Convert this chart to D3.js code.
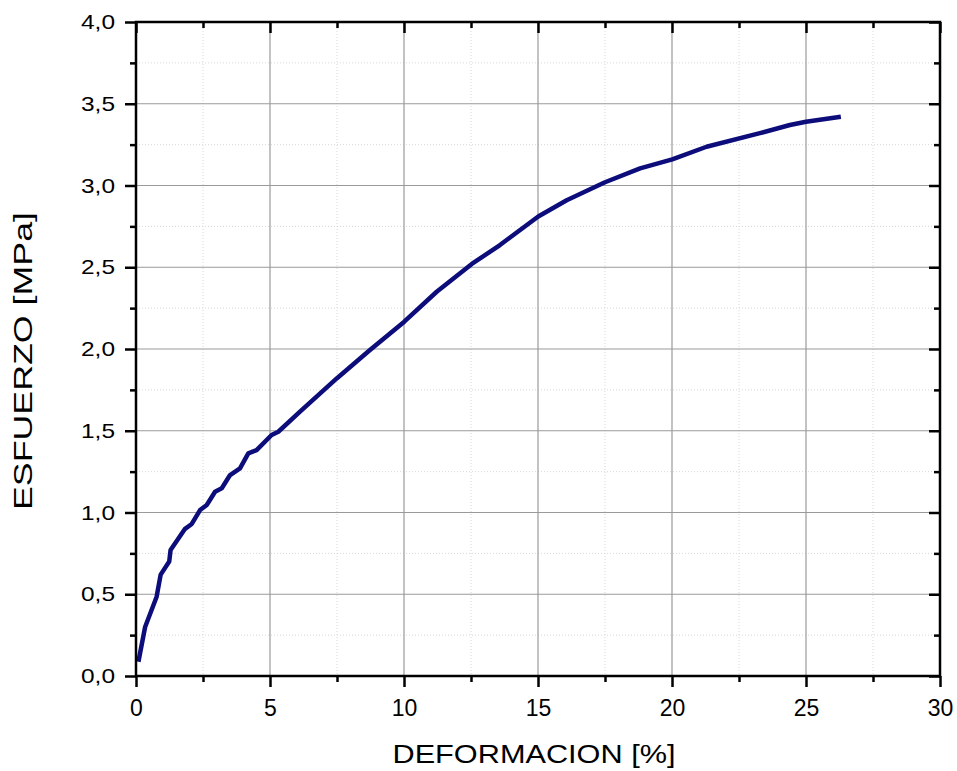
<!DOCTYPE html>
<html>
<head>
<meta charset="utf-8">
<script src="https://cdn.jsdelivr.net/npm/d3@7"></script>
<style>
  body { margin: 0; background: #fff; }
  svg text { font-family: "Liberation Sans", Arial, sans-serif; fill: #000; }
</style>
</head>
<body>
<div id="chart"></div>
<script>
// deformacion [%] and esfuerzo [MPa]
var strain = [0.09, 0.34, 0.77, 0.92, 1.24, 1.29, 1.83, 2.08, 2.39, 2.64, 2.95, 3.20, 3.51, 3.88, 4.19, 4.50,
    5.06, 5.31, 6.12, 7.49, 8.73, 10.01, 11.22, 12.53, 13.58, 15.01, 16.07, 17.5, 18.81, 20.01,
    21.29, 23.28, 24.4, 25.0, 26.3];
var stress = [0.087, 0.30, 0.485, 0.62, 0.70, 0.77, 0.90, 0.93, 1.015, 1.046, 1.127, 1.148, 1.229, 1.27, 1.362, 1.382,
    1.474, 1.494, 1.617, 1.82, 1.994, 2.167, 2.35, 2.52, 2.636, 2.81, 2.91, 3.02, 3.105, 3.16,
    3.237, 3.32, 3.37, 3.39, 3.42];
var xMajor = [0, 5, 10, 15, 20, 25, 30];
var xMinor = [2.5, 7.5, 12.5, 17.5, 22.5, 27.5];
var yMajor = [0, 0.5, 1.0, 1.5, 2.0, 2.5, 3.0, 3.5, 4.0];
var yMinor = [0.25, 0.75, 1.25, 1.75, 2.25, 2.75, 3.25, 3.75];

function draw_chart() {
    "use strict";
    var width = 957, height = 771;
    var margin = {top: 22, right: 17, bottom: 95, left: 136};
    var w = width - margin.left - margin.right;
    var h = height - margin.top - margin.bottom;

    var svg = d3.select("#chart")
        .append("svg")
        .attr("width", width)
        .attr("height", height);

    var g = svg.append("g")
        .attr("transform", "translate(" + margin.left + "," + margin.top + ")");

    var x = d3.scaleLinear().domain([0, 30]).range([0, w]);
    var y = d3.scaleLinear().domain([0, 4]).range([h, 0]);
    var fmt = function (d) { return d3.format(".1f")(d).replace(".", ","); };

    // minor grid, dotted
    g.selectAll(".minorx").data(xMinor).enter().append("line")
        .attr("x1", x).attr("x2", x).attr("y1", 0).attr("y2", h)
        .style("stroke", "#d8d8d8").style("stroke-dasharray", "1,2");
    g.selectAll(".minory").data(yMinor).enter().append("line")
        .attr("y1", y).attr("y2", y).attr("x1", 0).attr("x2", w)
        .style("stroke", "#d8d8d8").style("stroke-dasharray", "1,2");

    // major grid
    g.selectAll(".majorx").data(xMajor.slice(1, -1)).enter().append("line")
        .attr("x1", x).attr("x2", x).attr("y1", 0).attr("y2", h)
        .style("stroke", "#9a9a9a").style("stroke-width", 1.2);
    g.selectAll(".majory").data(yMajor.slice(1, -1)).enter().append("line")
        .attr("y1", y).attr("y2", y).attr("x1", 0).attr("x2", w)
        .style("stroke", "#9a9a9a").style("stroke-width", 1.2);

    // curve
    var line = d3.line()
        .x(function (d, i) { return x(strain[i]); })
        .y(function (d, i) { return y(stress[i]); });
    g.append("path")
        .datum(strain)
        .attr("d", line)
        .style("fill", "none")
        .style("stroke", "#0c0c7a")
        .style("stroke-width", 4.5)
        .style("stroke-linejoin", "round");

    // axes: bottom/left outward, top/right inward
    var bottom = g.append("g").attr("transform", "translate(0," + h + ")")
        .call(d3.axisBottom(x).tickValues(xMajor).tickSize(11).tickPadding(13).tickFormat(d3.format("d")));
    var left = g.append("g")
        .call(d3.axisLeft(y).tickValues(yMajor).tickSize(11).tickPadding(10).tickFormat(fmt));
    g.append("g")
        .call(d3.axisTop(x).tickValues(xMajor).tickSize(-11).tickFormat(""));
    g.append("g").attr("transform", "translate(" + w + ",0)")
        .call(d3.axisRight(y).tickValues(yMajor).tickSize(-11).tickFormat(""));

    g.append("g").attr("transform", "translate(0," + h + ")")
        .call(d3.axisBottom(x).tickValues(xMinor).tickSize(6).tickFormat(""));
    g.append("g")
        .call(d3.axisLeft(y).tickValues(yMinor).tickSize(6).tickFormat(""));
    g.append("g")
        .call(d3.axisTop(x).tickValues(xMinor).tickSize(-6).tickFormat(""));
    g.append("g").attr("transform", "translate(" + w + ",0)")
        .call(d3.axisRight(y).tickValues(yMinor).tickSize(-6).tickFormat(""));

    g.selectAll(".domain").remove();
    g.selectAll(".tick line").style("stroke", "#000").style("stroke-width", 2.5);
    bottom.selectAll(".tick text")
        .style("font-size", "23px")
        .style("font-family", "Liberation Sans, Arial, sans-serif");
    left.selectAll(".tick text")
        .style("font-size", "21px")
        .style("font-family", "Liberation Sans, Arial, sans-serif")
        .attr("textLength", 34)
        .attr("lengthAdjust", "spacingAndGlyphs");

    // frame
    g.append("rect")
        .attr("width", w).attr("height", h)
        .style("fill", "none").style("stroke", "#000").style("stroke-width", 2.5);

    // titles
    svg.append("text")
        .attr("x", 534)
        .attr("y", 763)
        .attr("text-anchor", "middle")
        .attr("textLength", 283)
        .attr("lengthAdjust", "spacingAndGlyphs")
        .style("font-size", "25px")
        .text("DEFORMACION [%]");
    svg.append("text")
        .attr("transform", "translate(32,361) rotate(-90)")
        .attr("text-anchor", "middle")
        .attr("textLength", 298)
        .attr("lengthAdjust", "spacingAndGlyphs")
        .style("font-size", "25px")
        .text("ESFUERZO [MPa]");
}

draw_chart();
</script>
</body>
</html>
